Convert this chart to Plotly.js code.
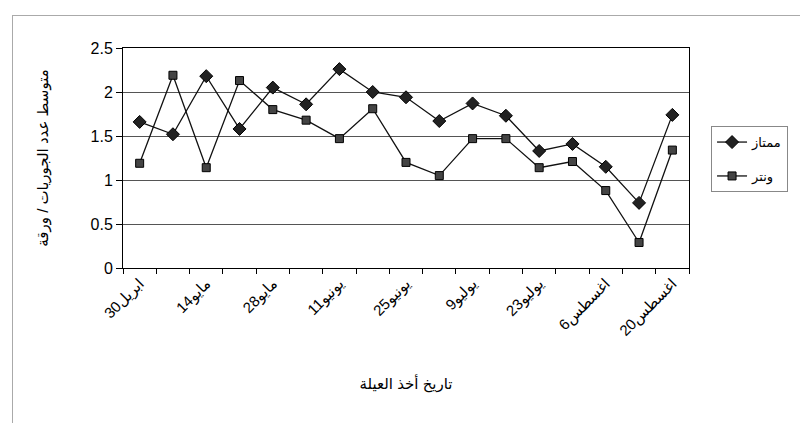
<!DOCTYPE html>
<html><head><meta charset="utf-8">
<script src="https://cdn.plot.ly/plotly-3.0.1.min.js"></script>
<style>
body{margin:0;background:#fff;overflow:hidden;}
#chart{width:800px;height:423px;}
#frame{position:absolute;left:12px;top:15px;width:900px;height:500px;border:1px solid #aaa;pointer-events:none;}
</style>
</head><body>
<div id="chart"></div><div id="frame"></div>
<script>
const dates = ["30ابريل","7مايو","14مايو","21مايو","28مايو","4يونيو","11يونيو","18يونيو","25يونيو","2يوليو","9يوليو","16يوليو","23يوليو","30يوليو","6اغسطس","13اغسطس","20اغسطس"];
const mumtaz = [1.66,1.52,2.18,1.58,2.05,1.86,2.26,2.0,1.94,1.67,1.87,1.73,1.33,1.41,1.15,0.74,1.74];
const winter = [1.19,2.19,1.14,2.13,1.80,1.68,1.47,1.81,1.20,1.05,1.47,1.47,1.14,1.21,0.88,0.29,1.34];
const seriesNames = ["ممتاز","ونتر"];
const yTicks = [0,0.5,1,1.5,2,2.5];
const tickLabels = dates.map((d,i)=> i%2===0 ? d : "");

const FONT = "Liberation Sans, Arial, DejaVu Sans, sans-serif";

const traces = [
  {x: dates, y: mumtaz, name: seriesNames[0], type:"scatter", mode:"lines+markers",
   legendgroup:"a",
   line:{color:"#111", width:1.3},
   marker:{symbol:"diamond", size:10, color:"#222", line:{color:"#000", width:1}}},
  {x: dates, y: winter, name: seriesNames[1], type:"scatter", mode:"lines+markers",
   legendgroup:"b",
   line:{color:"#111", width:1.3},
   marker:{symbol:"square", size:8, color:"#444", line:{color:"#000", width:1}}}
];

const layout = {
  width:800, height:423,
  margin:{l:123, r:111, t:48, b:155},
  paper_bgcolor:"#fff", plot_bgcolor:"#fff",
  font:{family:FONT, color:"#000"},
  showlegend:true,
  legend:{x:1.175, xanchor:"right", y:0.645, yanchor:"top",
          bordercolor:"#888", borderwidth:1, font:{size:13, family:FONT},
          traceorder:"grouped", tracegroupgap:14},
  xaxis:{
    type:"category", range:[-0.5, dates.length-0.5],
    tickmode:"array", tickvals:dates, ticktext:tickLabels,
    tickson:"boundaries", ticks:"outside", ticklen:5, tickcolor:"#000",
    tickangle:-45, tickfont:{size:15, family:FONT}, automargin:false,
    showline:true, linecolor:"#000", linewidth:1, mirror:true,
    showgrid:false, zeroline:false,
    title:{text:"تاريخ أخذ العيلة", font:{size:15, family:FONT}, standoff:39}
  },
  yaxis:{
    range:[0,2.5], tickmode:"array", tickvals:yTicks, ticktext:yTicks.map(String),
    ticks:"outside", ticklen:6, tickcolor:"#000", automargin:false,
    tickfont:{size:16, family:FONT},
    showline:true, linecolor:"#000", linewidth:1, mirror:true,
    showgrid:true, gridcolor:"#555", gridwidth:1, zeroline:false,
    title:{text:"متوسط عدد الجوريات / ورقة", font:{size:15, family:FONT}, standoff:38}
  }
};

Plotly.newPlot("chart", traces, layout, {displayModeBar:false, staticPlot:true});
</script>
</body></html>
